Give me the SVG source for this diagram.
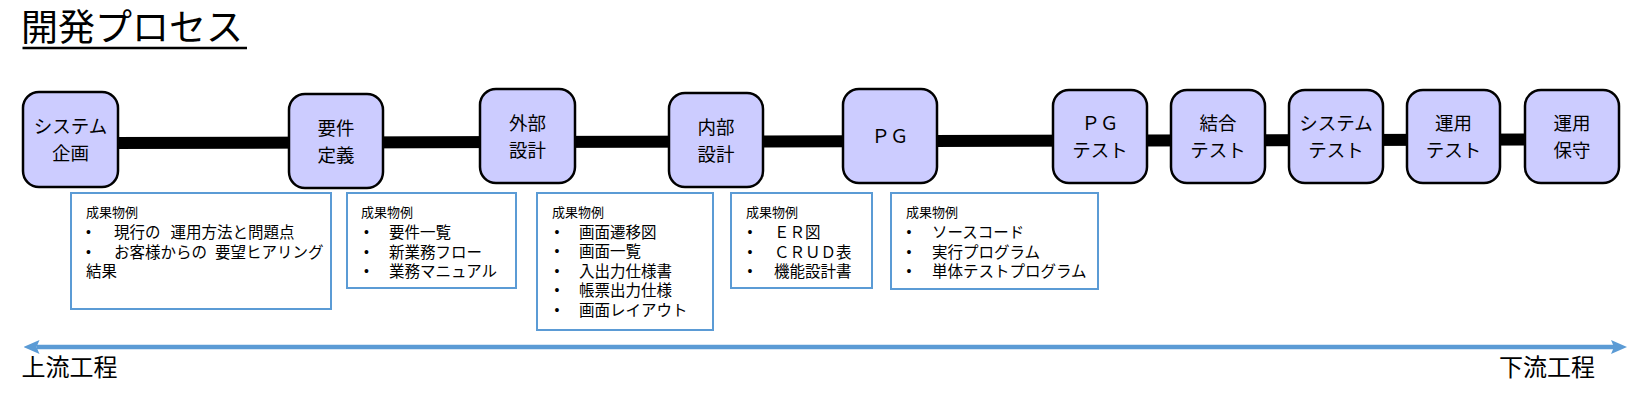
<svg xmlns="http://www.w3.org/2000/svg" width="1642" height="402" viewBox="0 0 1642 402">
<defs>
<style>
.jp{font-family:"Noto Sans CJK JP","Noto Sans",sans-serif;fill:#000}
.title{font-size:37px}
.node rect{fill:#CCCCFF;stroke:#000;stroke-width:2.5}
.node text{font-size:18.5px;text-anchor:middle}
.desc rect{fill:#fff;stroke:#5B9BD5;stroke-width:2}
.hd{font-size:13px}
.it{font-size:15.5px}
.bl{font-family:"Liberation Sans",sans-serif;font-size:14px;text-anchor:middle}
.flow{font-size:24px}
</style>
<marker id="ah" viewBox="0 0 16 14" markerWidth="16" markerHeight="14" refX="3" refY="7" orient="auto-start-reverse" markerUnits="userSpaceOnUse">
<path d="M0,0 L16,7 L0,14 L3,7 Z" fill="#5B9BD5"/>
</marker>
</defs>
<rect width="1642" height="402" fill="#fff"/>

<g id="title">
<text class="jp title" x="21" y="41">開発プロセス</text>
<line x1="22.5" y1="48" x2="247" y2="48" stroke="#000" stroke-width="2.5"/>
</g>

<g id="connectors">
<line x1="110" y1="143" x2="1530" y2="139.5" stroke="#000" stroke-width="12"/>
<line x1="36.5" y1="347" x2="1614" y2="347" stroke="#5B9BD5" stroke-width="4.5" marker-start="url(#ah)" marker-end="url(#ah)"/>
</g>

<g id="n1" class="node"><rect x="23" y="92" width="95" height="95" rx="16"/><text class="jp" x="70.5" y="133"><tspan x="70.5">システム</tspan><tspan x="70.5" dy="27">企画</tspan></text></g>
<g id="n2" class="node"><rect x="289" y="94" width="94" height="94" rx="16"/><text class="jp" x="336" y="134.5"><tspan x="336">要件</tspan><tspan x="336" dy="27">定義</tspan></text></g>
<g id="n3" class="node"><rect x="480" y="89" width="95" height="94" rx="16"/><text class="jp" x="527.5" y="129.5"><tspan x="527.5">外部</tspan><tspan x="527.5" dy="27">設計</tspan></text></g>
<g id="n4" class="node"><rect x="669" y="93" width="94" height="94" rx="16"/><text class="jp" x="716" y="133.5"><tspan x="716">内部</tspan><tspan x="716" dy="27">設計</tspan></text></g>
<g id="n5" class="node"><rect x="843" y="89" width="94" height="94" rx="16"/><text class="jp" x="890" y="143">ＰＧ</text></g>
<g id="n6" class="node"><rect x="1053" y="90" width="94" height="93" rx="16"/><text class="jp" x="1100" y="130"><tspan x="1100">ＰＧ</tspan><tspan x="1100" dy="27">テスト</tspan></text></g>
<g id="n7" class="node"><rect x="1171" y="90" width="94" height="93" rx="16"/><text class="jp" x="1218" y="130"><tspan x="1218">結合</tspan><tspan x="1218" dy="27">テスト</tspan></text></g>
<g id="n8" class="node"><rect x="1289" y="90" width="94" height="93" rx="16"/><text class="jp" x="1336" y="130"><tspan x="1336">システム</tspan><tspan x="1336" dy="27">テスト</tspan></text></g>
<g id="n9" class="node"><rect x="1407" y="90" width="93" height="93" rx="16"/><text class="jp" x="1453.5" y="130"><tspan x="1453.5">運用</tspan><tspan x="1453.5" dy="27">テスト</tspan></text></g>
<g id="n10" class="node"><rect x="1525" y="90" width="94" height="93" rx="16"/><text class="jp" x="1572" y="130"><tspan x="1572">運用</tspan><tspan x="1572" dy="27">保守</tspan></text></g>

<g id="d1" class="desc"><rect x="71" y="193" width="260" height="116"/>
<text class="jp hd" x="86" y="217">成果物例</text>
<text class="bl" x="88.5" y="237">•</text><text class="jp it" x="114" y="238">現行の<tspan dx="10">運用方法と問題点</tspan></text>
<text class="bl" x="88.5" y="256.5">•</text><text class="jp it" x="114" y="257.5">お客様からの<tspan dx="8">要望ヒアリング</tspan></text>
<text class="jp it" x="86" y="277">結果</text>
</g>
<g id="d2" class="desc"><rect x="347" y="193" width="169" height="95"/>
<text class="jp hd" x="361" y="217">成果物例</text>
<text class="bl" x="366.5" y="237">•</text><text class="jp it" x="389" y="238">要件一覧</text>
<text class="bl" x="366.5" y="256.5">•</text><text class="jp it" x="389" y="257.5">新業務フロー</text>
<text class="bl" x="366.5" y="276">•</text><text class="jp it" x="389" y="277">業務マニュアル</text>
</g>
<g id="d3" class="desc"><rect x="537" y="193" width="176" height="137"/>
<text class="jp hd" x="552" y="217">成果物例</text>
<text class="bl" x="557" y="236.5">•</text><text class="jp it" x="579" y="237.5">画面遷移図</text>
<text class="bl" x="557" y="256">•</text><text class="jp it" x="579" y="257">画面一覧</text>
<text class="bl" x="557" y="275.5">•</text><text class="jp it" x="579" y="276.5">入出力仕様書</text>
<text class="bl" x="557" y="295">•</text><text class="jp it" x="579" y="296">帳票出力仕様</text>
<text class="bl" x="557" y="314.5">•</text><text class="jp it" x="579" y="315.5">画面レイアウト</text>
</g>
<g id="d4" class="desc"><rect x="731" y="193" width="141" height="95"/>
<text class="jp hd" x="746" y="217">成果物例</text>
<text class="bl" x="750" y="237">•</text><text class="jp it" x="774" y="238">ＥＲ図</text>
<text class="bl" x="750" y="256.5">•</text><text class="jp it" x="774" y="257.5">ＣＲＵＤ表</text>
<text class="bl" x="750" y="276">•</text><text class="jp it" x="774" y="277">機能設計書</text>
</g>
<g id="d5" class="desc"><rect x="891" y="193" width="207" height="96"/>
<text class="jp hd" x="906" y="217">成果物例</text>
<text class="bl" x="909" y="237">•</text><text class="jp it" x="932" y="238">ソースコード</text>
<text class="bl" x="909" y="256.5">•</text><text class="jp it" x="932" y="257.5">実行プログラム</text>
<text class="bl" x="909" y="276">•</text><text class="jp it" x="932" y="277">単体テストプログラム</text>
</g>

<g id="labels">
<text class="jp flow" x="21.5" y="376">上流工程</text>
<text class="jp flow" x="1499" y="376">下流工程</text>
</g>
</svg>
